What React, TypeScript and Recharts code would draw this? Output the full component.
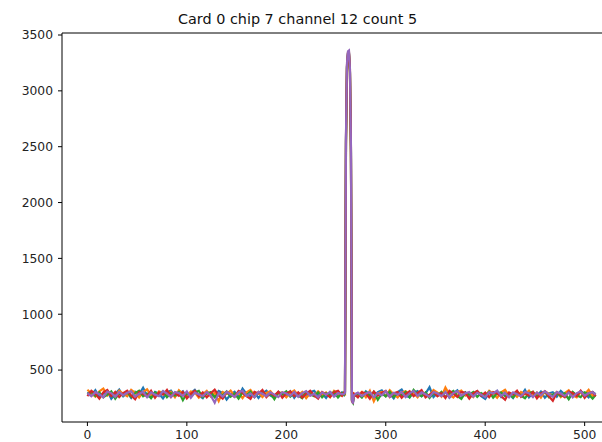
import { LineChart, Line, XAxis, YAxis, ReferenceLine } from 'recharts';

// sample positions (decimated away from the pulse, full resolution around it)
const xs = [
  0, 4, 8, 12, 16, 20, 24, 28, 32, 36, 40, 44, 48, 52, 56, 60, 64, 68, 72, 76,
  80, 84, 88, 92, 96, 100, 104, 108, 112, 116, 120, 124, 128, 132, 136, 140, 144, 148, 152, 156,
  160, 164, 168, 172, 176, 180, 184, 188, 192, 196, 200, 204, 208, 212, 216, 220, 224, 228, 232, 236,
  240, 244, 248, 252, 256,
  258, 259, 260, 261, 262, 263, 264, 265, 266, 267, 268,
  272, 276, 280, 284, 288, 292, 296, 300, 304, 308, 312, 316, 320, 324, 328, 332, 336, 340, 344, 348,
  352, 356, 360, 364, 368, 372, 376, 380, 384, 388, 392, 396, 400, 404, 408, 412, 416, 420, 424, 428,
  432, 436, 440, 444, 448, 452, 456, 460, 464, 468, 472, 476, 480, 484, 488, 492, 496, 500, 504, 508,
  511,
];

const series0 = [
  300, 275, 320, 258, 290, 312, 242, 285, 326, 266,
  298, 252, 306, 282, 342, 272, 256, 304, 288, 246,
  300, 316, 266, 284, 310, 258, 294, 322, 272, 248,
  304, 286, 262, 314, 294, 236, 280, 306, 258, 334,
  286, 266, 300, 250, 292, 316, 272, 256, 304, 284,
  266, 310, 252, 296, 280, 258, 302, 314, 268, 290,
  250, 304, 282, 262, 300,
  278, 300, 2550, 3220, 3330, 3335, 3180, 2450, 230, 215, 280,
  294, 262, 310, 280, 250, 302, 318, 266, 288, 246,
  304, 326, 272, 256, 298, 312, 266, 290, 346, 258,
  294, 272, 306, 252, 292, 318, 268, 300, 256, 288,
  310, 266, 242, 296, 280, 314, 260, 302, 284, 250,
  304, 272, 322, 256, 294, 268, 308, 252, 290, 302,
  262, 314, 282, 244, 300, 270, 310, 288, 256, 304,
  284,
];

const series1 = [
  324, 290, 262, 310, 334, 272, 302, 256, 316, 288,
  266, 322, 296, 254, 304, 328, 276, 260, 310, 292,
  270, 304, 256, 320, 288, 268, 308, 300, 252, 282,
  314, 262, 298, 222, 304, 286, 316, 268, 294, 248,
  300, 322, 272, 304, 258, 296, 312, 266, 290, 302,
  256, 294, 318, 272, 304, 248, 292, 268, 310, 280,
  300, 258, 314, 286, 268,
  290, 285, 2500, 3200, 3320, 3325, 3160, 2400, 240, 225, 290,
  272, 304, 256, 314, 220, 292, 304, 268, 320, 284,
  254, 300, 310, 270, 294, 256, 304, 286, 268, 322,
  298, 262, 344, 280, 254, 302, 316, 272, 294, 258,
  306, 284, 266, 314, 290, 252, 300, 324, 270, 292,
  260, 304, 282, 316, 266, 298, 254, 310, 288, 272,
  302, 258, 294, 320, 274, 256, 304, 284, 324, 268,
  290,
];

const series2 = [
  285, 304, 268, 300, 256, 280, 308, 244, 292, 272,
  304, 260, 294, 316, 266, 288, 248, 300, 280, 310,
  256, 294, 272, 304, 230, 292, 266, 300, 314, 258,
  288, 302, 256, 294, 272, 308, 262, 290, 244, 298,
  274, 306, 258, 296, 304, 266, 292, 240, 300, 282,
  310, 262, 294, 272, 248, 304, 284, 266, 300, 256,
  292, 272, 304, 254, 294,
  276, 290, 2530, 3210, 3335, 3340, 3170, 2480, 225, 208, 262,
  288, 254, 300, 268, 304, 234, 290, 266, 306, 260,
  292, 272, 304, 256, 322, 284, 266, 300, 250, 294,
  272, 304, 258, 292, 314, 268, 242, 298, 280, 304,
  260, 294, 270, 306, 252, 292, 300, 266, 288, 256,
  302, 272, 248, 294, 306, 262, 290, 304, 256, 280,
  298, 266, 292, 240, 304, 274, 258, 300, 282, 244,
  276,
];

const series3 = [
  266, 314, 288, 244, 300, 322, 268, 304, 258, 294,
  316, 272, 238, 304, 286, 266, 314, 252, 300, 280,
  322, 260, 296, 270, 304, 246, 288, 314, 266, 300,
  256, 292, 324, 272, 244, 304, 284, 260, 314, 296,
  266, 242, 304, 290, 322, 258, 294, 272, 306, 252,
  292, 310, 266, 300, 254, 288, 314, 272, 244, 304,
  282, 258, 302, 314, 272,
  300, 310, 2580, 3230, 3345, 3350, 3190, 2500, 220, 212, 286,
  256, 302, 290, 244, 308, 272, 296, 314, 258, 292,
  304, 252, 288, 310, 266, 296, 320, 256, 280, 304,
  266, 294, 250, 314, 288, 260, 304, 296, 244, 292,
  314, 270, 298, 256, 304, 290, 266, 234, 300, 282,
  316, 260, 294, 272, 304, 246, 292, 310, 266, 226,
  300, 280, 256, 308, 294, 268, 314, 252, 292, 304,
  264,
];

const series4 = [
  294, 266, 302, 284, 256, 308, 294, 260, 304, 274,
  296, 310, 262, 288, 304, 256, 300, 280, 266, 312,
  290, 258, 304, 294, 268, 310, 252, 298, 282, 266,
  304, 272, 208, 294, 262, 306, 284, 260, 300, 314,
  268, 292, 256, 304, 288, 266, 300, 280, 258, 302,
  290, 268, 304, 260, 294, 312, 270, 288, 256, 300,
  280, 304, 262, 294, 284,
  284, 296, 2600, 3250, 3355, 3362, 3200, 2520, 235, 200, 276,
  298, 266, 290, 304, 256, 294, 274, 310, 262, 296,
  280, 304, 258, 292, 314, 268, 300, 284, 260, 304,
  290, 266, 302, 256, 294, 310, 272, 292, 304, 262,
  296, 280, 258, 304, 290, 314, 268, 294, 256, 300,
  284, 266, 304, 292, 258, 300, 274, 310, 282, 260,
  304, 290, 268, 298, 256, 294, 308, 272, 292, 302,
  280,
];

const xTicks = [0, 100, 200, 300, 400, 500];
const yTicks = [500, 1000, 1500, 2000, 2500, 3000, 3500];

const X_MIN = -25.55;
const X_MAX = 536.55;
const Y_MIN = 35;
const Y_MAX = 3518;

const colors = ['#1f77b4', '#ff7f0e', '#2ca02c', '#d62728', '#9467bd'];
const keys = ['s0', 's1', 's2', 's3', 's4'];

const chartData = xs.map((x, i) => ({
  x,
  s0: series0[i],
  s1: series1[i],
  s2: series2[i],
  s3: series3[i],
  s4: series4[i],
}));

const tickStyle = { fill: '#222', fontSize: 12.3, fontFamily: 'DejaVu Sans' };

export default function App() {
  return (
    <div
      style={{
        position: 'fixed',
        left: 0,
        top: 0,
        width: 602,
        height: 442,
        overflow: 'hidden',
        background: '#fff',
      }}
    >
      <div
        style={{
          position: 'absolute',
          left: 0,
          top: 12,
          width: 595,
          textAlign: 'center',
          fontFamily: 'DejaVu Sans',
          fontSize: 14.4,
          lineHeight: '14.4px',
          color: '#111',
        }}
      >
        Card 0 chip 7 channel 12 count 5
      </div>
      <LineChart
        width={640}
        height={442}
        data={chartData}
        margin={{ top: 33, right: 19, bottom: 0, left: 12 }}
      >
        <XAxis
          dataKey="x"
          type="number"
          domain={[X_MIN, X_MAX]}
          ticks={xTicks}
          allowDataOverflow
          height={20}
          tickSize={4}
          tickMargin={4}
          stroke="#000"
          tick={tickStyle}
        />
        <YAxis
          type="number"
          domain={[Y_MIN, Y_MAX]}
          ticks={yTicks}
          allowDataOverflow
          width={50}
          tickSize={4}
          tickMargin={5}
          stroke="#000"
          tick={tickStyle}
        />
        <ReferenceLine y={Y_MAX} stroke="#000" strokeWidth={1} />
        <ReferenceLine x={X_MAX} stroke="#000" strokeWidth={1} />
        {keys.map((k, i) => (
          <Line
            key={k}
            dataKey={k}
            type="linear"
            stroke={colors[i]}
            strokeWidth={2.2}
            dot={false}
            isAnimationActive={false}
          />
        ))}
      </LineChart>
    </div>
  );
}
